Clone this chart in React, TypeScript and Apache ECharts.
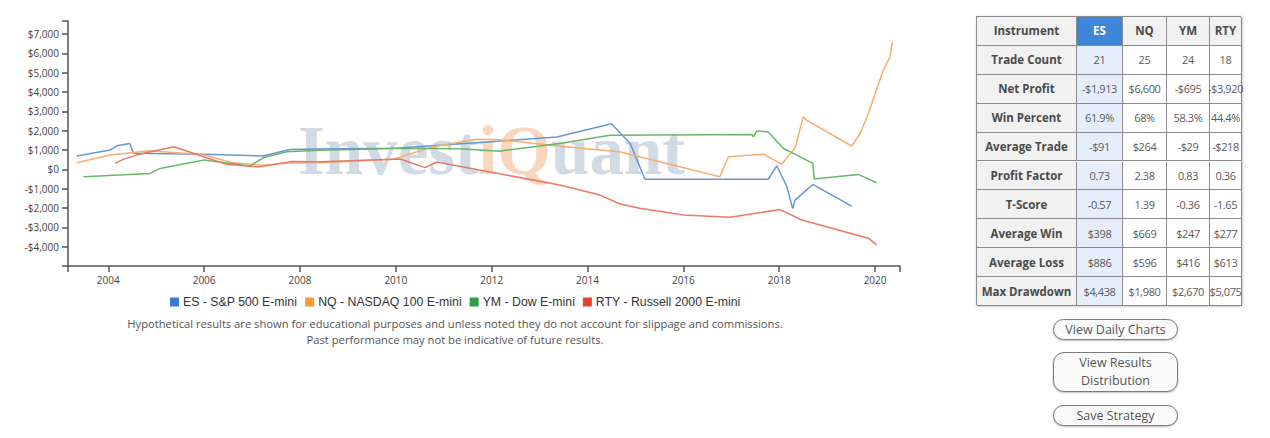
import React, { useEffect, useRef } from "react";
import * as echarts from "echarts";

// ---------- data ----------
const seriesNames = [
  "ES - S&P 500 E-mini",
  "NQ - NASDAQ 100 E-mini",
  "YM - Dow E-mini",
  "RTY - Russell 2000 E-mini",
];

const esYears = [2003.34, 2004.04, 2004.18, 2004.45, 2004.53, 2006.0, 2007.23, 2007.79, 2008.42, 2010.0, 2011.9, 2013.36, 2014.5, 2014.89, 2015.2, 2017.77, 2017.95, 2018.16, 2018.28, 2018.33, 2018.7, 2019.51];
const esValues = [690, 1000, 1220, 1340, 830, 790, 690, 1030, 1050, 1090, 1420, 1680, 2360, 1340, -510, -510, 180, -900, -2030, -1590, -780, -1900];

const nqYears = [2003.34, 2004.04, 2004.87, 2005.77, 2006.0, 2006.6, 2007.23, 2007.79, 2008.42, 2009.95, 2010.78, 2011.69, 2012.17, 2013.21, 2014.26, 2014.69, 2016.76, 2016.94, 2017.67, 2018.05, 2018.33, 2018.5, 2018.57, 2019.51, 2019.69, 2019.86, 2020.17, 2020.31, 2020.36];
const nqValues = [340, 740, 960, 800, 740, 340, 220, 330, 340, 530, 1170, 1560, 1540, 1250, 1000, 900, -380, 650, 790, 270, 1100, 2720, 2550, 1210, 1860, 2890, 5130, 5810, 6590];

const ymYears = [2003.48, 2004.87, 2005.08, 2006.0, 2006.96, 2007.23, 2007.72, 2008.42, 2010.09, 2011.34, 2012.17, 2013.42, 2014.47, 2017.43, 2017.46, 2017.53, 2017.77, 2018.09, 2018.3, 2018.7, 2018.73, 2019.65, 2020.03];
const ymValues = [-380, -210, 50, 490, 170, 600, 910, 990, 1100, 1070, 945, 1340, 1770, 1800, 1680, 1990, 1940, 1080, 830, 310, -500, -260, -690];

const rtyYears = [2004.14, 2004.31, 2004.59, 2004.87, 2005.37, 2006.05, 2006.47, 2007.15, 2007.83, 2008.42, 2010.09, 2010.61, 2010.85, 2013.42, 2014.26, 2014.68, 2015.09, 2016.0, 2016.97, 2018.02, 2018.47, 2019.86, 2020.03];
const rtyValues = [310, 520, 740, 900, 1170, 600, 260, 130, 410, 390, 540, 90, 380, -810, -1330, -1790, -2010, -2360, -2480, -2080, -2620, -3560, -3910];

const xTickLabels = [2004, 2006, 2008, 2010, 2012, 2014, 2016, 2018, 2020];
const yTickLabels = [-4000, -3000, -2000, -1000, 0, 1000, 2000, 3000, 4000, 5000, 6000, 7000];

const tableHeader = ["Instrument", "ES", "NQ", "YM", "RTY"];
const tableRowLabels = ["Trade Count", "Net Profit", "Win Percent", "Average Trade", "Profit Factor", "T-Score", "Average Win", "Average Loss", "Max Drawdown"];
const esStats = ["21", "-$1,913", "61.9%", "-$91", "0.73", "-0.57", "$398", "$886", "$4,438"];
const nqStats = ["25", "$6,600", "68%", "$264", "2.38", "1.39", "$669", "$596", "$1,980"];
const ymStats = ["24", "-$695", "58.3%", "-$29", "0.83", "-0.36", "$247", "$416", "$2,670"];
const rtyStats = ["18", "-$3,920", "44.4%", "-$218", "0.36", "-1.65", "$277", "$613", "$5,075"];

const buttonLabels = ["View Daily Charts", "View Results Distribution", "Save Strategy"];

const disclaimer1 = "Hypothetical results are shown for educational purposes and unless noted they do not account for slippage and commissions.";
const disclaimer2 = "Past performance may not be indicative of future results.";

// ---------- styles ----------
const legendColors = ["#3a7bd5", "#ff9a2e", "#2e9e40", "#e8412c"];
const lineColors = ["#6596d8", "#f9ad6a", "#6ab66a", "#e67a68"];

const X_MIN = 2003.16;
const X_MAX = 2020.52;
const Y_MIN = -5000;
const Y_MAX = 7680;

const zip = (xs: number[], ys: number[]) => xs.map((x, i) => [x, ys[i]]);

function money(v: number) {
  const s = Math.abs(v).toLocaleString("en-US");
  return v < 0 ? "-$" + s : "$" + s;
}

function Chart() {
  const ref = useRef<HTMLDivElement>(null);
  useEffect(() => {
    if (!ref.current) return;
    const chart = echarts.init(ref.current, null, { renderer: "svg" });
    const datasets = [
      zip(esYears, esValues),
      zip(nqYears, nqValues),
      zip(ymYears, ymValues),
      zip(rtyYears, rtyValues),
    ];
    chart.setOption({
      animation: false,
      grid: { left: 68, top: 21, width: 832, height: 245 },
      legend: {
        data: seriesNames,
        left: 165,
        top: 291,
        icon: "rect",
        itemWidth: 9,
        itemHeight: 9,
        itemGap: 8,
        textStyle: { fontFamily: "Liberation Sans, Arial", fontSize: 12.3, color: "#333", padding: [0, 0, 0, -1] },
      },
      xAxis: {
        type: "value",
        min: X_MIN,
        max: X_MAX,
        splitLine: { show: false },
        axisLine: { show: true, onZero: false, lineStyle: { color: "#555", width: 1.5 } },
        axisTick: {
          show: true,
          length: 6,
          customValues: [X_MIN, ...xTickLabels, X_MAX],
          lineStyle: { color: "#555", width: 1.5 },
        },
        axisLabel: {
          customValues: xTickLabels,
          formatter: (v: number) => String(Math.round(v)),
          fontFamily: "Open Sans",
          fontSize: 10,
          color: "#444",
          margin: 9,
        },
      },
      yAxis: {
        type: "value",
        min: Y_MIN,
        max: Y_MAX,
        splitLine: { show: false },
        axisLine: { show: true, onZero: false, lineStyle: { color: "#555", width: 1.5 } },
        axisTick: {
          show: true,
          length: 6,
          customValues: [Y_MIN, ...yTickLabels, Y_MAX],
          lineStyle: { color: "#555", width: 1.5 },
        },
        axisLabel: {
          customValues: yTickLabels,
          formatter: (v: number) => money(v),
          fontFamily: "Open Sans",
          fontSize: 10,
          color: "#444",
          margin: 9,
        },
      },
      graphic: [
        {
          type: "text",
          z: 0,
          silent: true,
          x: 298,
          y: 151,
          style: {
            text: "{a|Invest}{b|iQ}{a|uant}",
            verticalAlign: "middle",
            rich: {
              a: { fontFamily: "Liberation Serif", fontWeight: "bold", fontSize: 69, lineHeight: 69, fill: "#d1dae5" },
              b: { fontFamily: "Liberation Serif", fontWeight: "bold", fontSize: 69, lineHeight: 69, fill: "#f9d6bd" },
            },
          },
        },
        {
          type: "text",
          x: 455,
          y: 323,
          style: { text: disclaimer1, fontFamily: "Open Sans", fontSize: 11.2, fill: "#555", align: "center", verticalAlign: "middle" },
        },
        {
          type: "text",
          x: 455,
          y: 339,
          style: { text: disclaimer2, fontFamily: "Open Sans", fontSize: 11.2, fill: "#555", align: "center", verticalAlign: "middle" },
        },
      ],
      series: seriesNames.map((name, i) => ({
        name,
        type: "line",
        data: datasets[i],
        showSymbol: false,
        z: 3,
        itemStyle: { color: legendColors[i] },
        lineStyle: { color: lineColors[i], width: 1.5 },
      })),
    });
    return () => chart.dispose();
  }, []);
  return <div ref={ref} style={{ position: "absolute", left: 0, top: 0, width: 910, height: 360 }} />;
}

const colEdges = [976, 1076, 1122, 1166, 1209, 1241];
const TABLE_TOP = 16;
const ROW_H = 28.9;

function StatsTable() {
  const columns = [tableRowLabels, esStats, nqStats, ymStats, rtyStats];
  const cells: React.ReactNode[] = [];
  for (let r = 0; r < 10; r++) {
    for (let c = 0; c < 5; c++) {
      const text = r === 0 ? tableHeader[c] : columns[c][r - 1];
      const isLabel = c === 0 || r === 0;
      let bg = c === 0 || r === 0 ? "#f1f1f1" : "#ffffff";
      let color = isLabel ? "#4a4a4a" : "#5a5a5a";
      if (c === 1) bg = r === 0 ? "#3f86d9" : "#e5eefa";
      if (c === 1 && r === 0) color = "#ffffff";
      cells.push(
        <div
          key={r + "-" + c}
          style={{
            position: "absolute",
            left: colEdges[c] - colEdges[0],
            top: r * ROW_H,
            width: colEdges[c + 1] - colEdges[c],
            height: ROW_H,
            boxSizing: "border-box",
            borderRight: "1px solid #8a8a8a",
            borderBottom: "1px solid #8a8a8a",
            background: bg,
            color,
            fontFamily: "Open Sans",
            fontSize: isLabel ? 11.5 : 11,
            fontWeight: isLabel ? 700 : 400,
            display: "flex",
            alignItems: "center",
            justifyContent: "center",
            whiteSpace: "nowrap",
            letterSpacing: isLabel ? 0 : -0.4,
          }}
        >
          {text}
        </div>
      );
    }
  }
  return (
    <div
      style={{
        position: "absolute",
        left: colEdges[0],
        top: TABLE_TOP,
        width: colEdges[5] - colEdges[0],
        height: ROW_H * 10,
        boxSizing: "border-box",
        borderLeft: "1px solid #8a8a8a",
        borderTop: "1px solid #8a8a8a",
        boxShadow: "1px 1px 3px rgba(0,0,0,0.35)",
      }}
    >
      {cells}
    </div>
  );
}

const buttonBoxes = [
  { top: 319, height: 21 },
  { top: 352, height: 40 },
  { top: 405, height: 21 },
];

function Buttons() {
  return (
    <>
      {buttonLabels.map((label, i) => (
        <div
          key={label}
          style={{
            position: "absolute",
            left: 1053,
            top: buttonBoxes[i].top,
            width: 125,
            height: buttonBoxes[i].height,
            boxSizing: "border-box",
            border: "1.5px solid #7a7a7a",
            borderRadius: 11,
            background: "#fafafa",
            boxShadow: "0 1px 2px rgba(0,0,0,0.25)",
            display: "flex",
            alignItems: "center",
            justifyContent: "center",
            textAlign: "center",
            fontFamily: "Open Sans",
            fontSize: 12.5,
            lineHeight: "18px",
            color: "#555",
            padding: i === 1 ? "0 24px" : 0,
          }}
        >
          {label}
        </div>
      ))}
    </>
  );
}

export default function App() {
  return (
    <div style={{ position: "absolute", left: 0, top: 0, width: 1270, height: 438, background: "#fff", overflow: "hidden" }}>
      <Chart />
      <StatsTable />
      <Buttons />
    </div>
  );
}
